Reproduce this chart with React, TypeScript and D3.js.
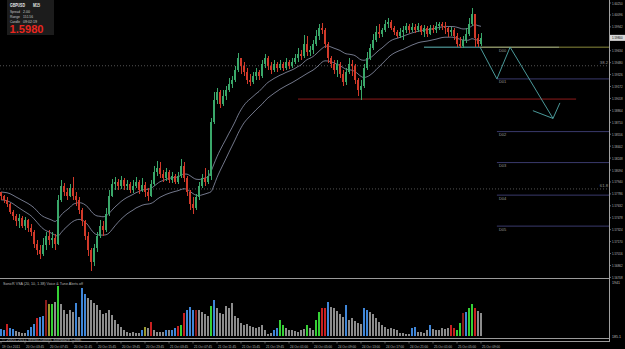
import React from "react";
import * as d3 from "d3";

// header block
const symbol = "GBPUSD";
const timeframe = "M15";
const infoLabels = ["Spread", "Range", "Candle"];
const infoValues = ["2.00", "151.56", "09:02:19"];
const bidText = "1.5980";

const firstOpen = 1.5781;
const closes = [
  1.5776, 1.5771, 1.5766, 1.5755, 1.575, 1.5743, 1.5748, 1.5737, 1.5745, 1.5735,
  1.573, 1.5714, 1.5706, 1.5701, 1.5712, 1.5724, 1.5719, 1.5722, 1.5714, 1.5771,
  1.5789, 1.5781, 1.5776, 1.5786, 1.5776, 1.5771, 1.5758, 1.5743, 1.5724, 1.5706,
  1.5691, 1.5709, 1.5724, 1.5737, 1.5732, 1.5753, 1.5776, 1.5792, 1.5794, 1.5789,
  1.5797, 1.5789, 1.5792, 1.5784, 1.5789, 1.5794, 1.5784, 1.579, 1.5781, 1.5776,
  1.5792, 1.5807, 1.5812, 1.5804, 1.5799, 1.5807, 1.5797, 1.5802, 1.5794, 1.5802,
  1.5815, 1.5799, 1.5781, 1.5766, 1.5761, 1.5774, 1.5789, 1.5799, 1.5794, 1.5802,
  1.5872, 1.59, 1.591, 1.5895, 1.5905, 1.5913, 1.592, 1.5926, 1.5939, 1.5954,
  1.5944, 1.5936, 1.5926, 1.5923, 1.5931, 1.5936, 1.5931, 1.5946, 1.5954, 1.5944,
  1.5939, 1.5946, 1.5941, 1.5946, 1.5941, 1.5949, 1.5944, 1.5949, 1.5954, 1.5959,
  1.5957, 1.5972, 1.5962, 1.5964, 1.5972, 1.5982, 1.5993, 1.599, 1.5972, 1.5954,
  1.5946, 1.5939, 1.5946, 1.5933, 1.5923, 1.5936, 1.5946, 1.5944, 1.5926, 1.5913,
  1.5918, 1.5941, 1.5954, 1.5967, 1.5977, 1.5988, 1.5985, 1.599, 1.5998, 1.6001,
  1.5993, 1.5988, 1.5982, 1.5988, 1.599, 1.5995, 1.599, 1.5994, 1.599, 1.5995,
  1.5988, 1.5993, 1.5985, 1.5993, 1.599, 1.5995, 1.5998, 1.5995, 1.5993, 1.5988,
  1.599, 1.5982, 1.5972, 1.597, 1.5977, 1.5985, 1.5998, 1.6011, 1.598, 1.5972,
  1.598,
];
const highs = [
  1.5781, 1.5777, 1.5775, 1.5767, 1.5758, 1.5753, 1.5753, 1.575, 1.5749, 1.5746,
  1.574, 1.5732, 1.5719, 1.5712, 1.5722, 1.573, 1.5732, 1.573, 1.5727, 1.5777,
  1.5797, 1.5793, 1.5786, 1.5792, 1.5801, 1.5781, 1.5774, 1.5761, 1.5745, 1.573,
  1.5709, 1.5714, 1.573, 1.5745, 1.5743, 1.5761, 1.5784, 1.5798, 1.5801, 1.5798,
  1.5802, 1.5799, 1.5797, 1.5794, 1.5797, 1.5801, 1.5797, 1.5799, 1.5794, 1.5786,
  1.5797, 1.5815, 1.5821, 1.582, 1.581, 1.5812, 1.581, 1.5807, 1.5804, 1.5807,
  1.5823, 1.582, 1.5802, 1.5784, 1.5774, 1.5779, 1.5794, 1.5804, 1.5812, 1.581,
  1.5877, 1.591, 1.5915, 1.5913, 1.5913, 1.5918, 1.5928, 1.5931, 1.5944, 1.5961,
  1.5954, 1.5949, 1.5941, 1.5933, 1.5936, 1.5941, 1.5939, 1.5952, 1.5959, 1.5957,
  1.5949, 1.5952, 1.5949, 1.5952, 1.5949, 1.5954, 1.5952, 1.5954, 1.5959, 1.5967,
  1.5964, 1.5984, 1.5982, 1.597, 1.5977, 1.599, 1.5998, 1.5999, 1.5993, 1.5975,
  1.5957, 1.5952, 1.5952, 1.5949, 1.5939, 1.5941, 1.5954, 1.5952, 1.5946, 1.5928,
  1.5926, 1.5946, 1.5962, 1.5972, 1.5985, 1.5995, 1.5998, 1.5993, 1.6003, 1.6006,
  1.6003, 1.5995, 1.599, 1.5993, 1.5995, 1.5999, 1.5998, 1.5999, 1.5998, 1.5999,
  1.5997, 1.5997, 1.5995, 1.5997, 1.5997, 1.6001, 1.6001, 1.6001, 1.6001, 1.5994,
  1.5994, 1.5993, 1.5986, 1.5981, 1.5982, 1.5993, 1.6006, 1.6019, 1.6011, 1.5985,
  1.5986,
];
const lows = [
  1.5771, 1.5767, 1.5762, 1.5752, 1.5745, 1.5737, 1.5735, 1.5734, 1.5732, 1.573,
  1.5724, 1.5709, 1.57, 1.5695, 1.5699, 1.5706, 1.5713, 1.5709, 1.5706, 1.5712,
  1.5768, 1.5776, 1.5771, 1.5774, 1.5771, 1.5763, 1.5753, 1.5737, 1.5719, 1.5699,
  1.5679, 1.5686, 1.5704, 1.5722, 1.5724, 1.573, 1.575, 1.5774, 1.5784, 1.5784,
  1.5785, 1.5783, 1.5784, 1.578, 1.578, 1.5786, 1.5779, 1.5781, 1.5775, 1.577,
  1.5774, 1.5789, 1.5802, 1.5799, 1.5794, 1.5795, 1.5793, 1.5793, 1.5792, 1.5792,
  1.5799, 1.5794, 1.5776, 1.5758, 1.5752, 1.5758, 1.5771, 1.5786, 1.5789, 1.5792,
  1.5797, 1.5869, 1.5895, 1.589, 1.5892, 1.59, 1.591, 1.5915, 1.5923, 1.5936,
  1.5933, 1.5931, 1.592, 1.5918, 1.592, 1.5926, 1.5926, 1.5928, 1.5941, 1.5939,
  1.5933, 1.5936, 1.5936, 1.5939, 1.5937, 1.5939, 1.594, 1.5941, 1.5946, 1.5949,
  1.5952, 1.5954, 1.5957, 1.5957, 1.5959, 1.597, 1.5977, 1.5985, 1.5967, 1.5948,
  1.5941, 1.5933, 1.5929, 1.5928, 1.5918, 1.5919, 1.5933, 1.5931, 1.592, 1.5905,
  1.59, 1.5915, 1.5939, 1.5952, 1.5964, 1.5975, 1.598, 1.5981, 1.5988, 1.5993,
  1.599, 1.5984, 1.598, 1.598, 1.5977, 1.5986, 1.5986, 1.5988, 1.5986, 1.5988,
  1.5984, 1.5981, 1.5981, 1.5984, 1.5986, 1.5986, 1.599, 1.599, 1.5985, 1.5981,
  1.5982, 1.5977, 1.5968, 1.5967, 1.5967, 1.5973, 1.5982, 1.5995, 1.5968, 1.5968,
  1.597,
];

// SonicR VSA volume histogram
const volumes = [
  280, 240, 480, 320, 280, 200, 160, 120, 120, 240,
  360, 480, 720, 760, 800, 1440, 1280, 1280, 1360, 2000,
  1280, 1040, 880, 1040, 960, 1320, 760, 1920, 1680, 1520,
  1440, 1320, 1240, 1040, 880, 920, 1040, 840, 640, 480,
  360, 240, 160, 120, 160, 120, 120, 240, 360, 320,
  560, 240, 160, 160, 160, 240, 240, 240, 320, 400,
  440, 920, 1040, 1160, 1040, 1040, 1040, 960, 880, 800,
  1200, 1440, 1120, 920, 880, 1200, 1120, 1320, 800, 720,
  520, 440, 480, 400, 360, 320, 360, 440, 240, 80,
  120, 240, 320, 640, 440, 320, 240, 240, 200, 160,
  240, 280, 440, 320, 240, 640, 960, 1120, 1120, 1360,
  1160, 1120, 1000, 880, 760, 1240, 640, 720, 600, 520,
  480, 1120, 1040, 960, 880, 720, 560, 440, 360, 280,
  320, 280, 240, 120, 120, 80, 80, 320, 360, 160,
  160, 120, 240, 440, 280, 240, 240, 320, 280, 320,
  440, 320, 240, 520, 920, 960, 1120, 1280, 1120, 1000,
  920,
];
// n normal, l low volume test, u climax up, c climax down, k churn, w weak
const volumeTypes = [
  "l", "l", "c", "l", "l", "n", "n", "n", "n", "l",
  "l", "l", "c", "l", "l", "k", "w", "u", "n", "u",
  "n", "n", "n", "n", "n", "l", "n", "l", "l", "n",
  "n", "n", "n", "n", "n", "n", "n", "n", "n", "n",
  "n", "n", "n", "n", "n", "n", "n", "l", "w", "n",
  "c", "n", "n", "n", "n", "l", "n", "l", "l", "c",
  "u", "c", "l", "l", "l", "k", "n", "n", "n", "n",
  "u", "l", "n", "n", "n", "n", "n", "n", "n", "n",
  "n", "n", "n", "n", "n", "n", "n", "n", "n", "n",
  "n", "l", "l", "u", "u", "n", "n", "n", "n", "n",
  "n", "n", "u", "n", "n", "u", "u", "c", "c", "l",
  "n", "n", "n", "n", "n", "l", "n", "n", "n", "n",
  "n", "l", "l", "n", "n", "n", "n", "n", "n", "n",
  "n", "n", "n", "n", "n", "n", "n", "l", "l", "n",
  "n", "n", "n", "l", "n", "n", "n", "n", "n", "n",
  "c", "c", "u", "u", "k", "l", "u", "u", "c", "n",
  "n",
];

const timeLabels = [
  "19 Oct 2011", "20 Oct 03:45", "20 Oct 07:45", "20 Oct 11:45", "20 Oct 15:45",
  "20 Oct 19:45", "20 Oct 23:45", "21 Oct 03:45", "21 Oct 07:45", "21 Oct 11:45",
  "21 Oct 15:45", "21 Oct 19:45", "24 Oct 01:00", "24 Oct 05:00", "24 Oct 09:00",
  "24 Oct 13:00", "24 Oct 17:00", "24 Oct 21:00", "25 Oct 01:00", "25 Oct 05:00",
  "25 Oct 09:00",
];
const priceTicks = [
  1.6025, 1.60096, 1.59942, 1.59788, 1.59634, 1.5948, 1.59326, 1.59172, 1.59018,
  1.58864, 1.5871, 1.58556, 1.58402, 1.58248, 1.58094, 1.5794, 1.57786, 1.57632,
  1.57478, 1.57324, 1.5717, 1.57016, 1.56862, 1.56708,
];

// drawn objects
const retraceLabels = ["38.2", "61.8"];
const retracePrices = [1.5944, 1.5785];
const projLabels = ["D00", "D01", "D02", "D03", "D04", "D05"];
const projPrices = [1.5968, 1.5927, 1.5859, 1.5819, 1.5777, 1.5737];
const supportPrice = 1.5901;
const supportBars = [99, 191.7];
const zigBars = [159.7, 165.3, 169.7, 184, 186.3];
const zigPrices = [1.5968, 1.5927, 1.5968, 1.5876, 1.5896];
const barbBar = 177.3;
const barbPrice = 1.5886;
const baseLineBars = [141, 159.7];
const volMaxLabel = "1941";
const volLevelLabel = "185.1";

const ema = (arr: number[], period: number) => {
  const k = 2 / (period + 1);
  const out: number[] = [];
  arr.forEach((v, i) => out.push(i === 0 ? v : out[i - 1] + k * (v - out[i - 1])));
  return out;
};

const volColor: Record<string, string> = {
  n: "#8c8c8c",
  l: "#3f86d8",
  u: "#35d035",
  c: "#c82020",
  k: "#8a1c1c",
  w: "#9a9a30",
};

export default function App() {
  const W = 625;
  const H = 349;
  const font = "'Liberation Sans', Arial, sans-serif";
  const x = d3.scaleLinear().domain([0, 160]).range([1, 481]);
  const y = d3.scaleLinear().domain([1.56708, 1.6025]).range([277.4, 3]);
  const yv = d3.scaleLinear().domain([0, 2160]).range([336, 282]);

  const opens = closes.map((c, i) => (i === 0 ? firstOpen : closes[i - 1]));
  const maHigh = ema(highs, 20);
  const maLow = ema(lows, 20);
  const line = d3
    .line<number>()
    .x((d, i) => x(i))
    .y((d) => y(d))
    .curve(d3.curveMonotoneX);
  const zig = d3
    .line<number>()
    .x((d, i) => x(zigBars[i]))
    .y((d) => y(d));

  return (
    <svg
      width={W}
      height={H}
      style={{ position: "fixed", left: 0, top: 0, background: "#000" }}
      fontFamily={font}
    >
      <rect width={W} height={H} fill="#000" />

      {/* horizontal objects */}
      {retracePrices.map((p, i) => (
        <g key={"r" + i}>
          <line x1={0} x2={609} y1={y(p)} y2={y(p)} stroke="#777" strokeWidth={0.7} strokeDasharray="1,2" />
          <text x={608} y={y(p) - 1.5} fontSize={4.2} fill="#999" textAnchor="end">
            {retraceLabels[i]}
          </text>
        </g>
      ))}
      <line
        x1={x(supportBars[0])}
        x2={x(supportBars[1])}
        y1={y(supportPrice)}
        y2={y(supportPrice)}
        stroke="#8e1b1b"
        strokeWidth={1}
      />
      {projPrices.map((p, i) =>
        i === 0 ? null : (
          <line key={"p" + i} x1={x(zigBars[1])} x2={609} y1={y(p)} y2={y(p)} stroke="#3a3a6c" strokeWidth={1} />
        )
      )}
      <line x1={x(zigBars[0])} x2={x(186)} y1={y(projPrices[0])} y2={y(projPrices[0])} stroke="#c9d493" strokeWidth={1} />
      <line x1={x(186)} x2={609} y1={y(projPrices[0])} y2={y(projPrices[0])} stroke="#8a8a3c" strokeWidth={1} />
      <line
        x1={x(baseLineBars[0])}
        x2={x(baseLineBars[1])}
        y1={y(projPrices[0])}
        y2={y(projPrices[0])}
        stroke="#5fb8b8"
        strokeWidth={1}
      />
      {projPrices.map((p, i) => (
        <text key={"pl" + i} x={x(zigBars[1]) + 2} y={y(p) + 4.5} fontSize={4} fill="#9a9a9a">
          {projLabels[i]}
        </text>
      ))}

      {/* moving averages */}
      <path d={line(maHigh) || ""} fill="none" stroke="#a3abc6" strokeWidth={0.7} />
      <path d={line(maLow) || ""} fill="none" stroke="#a3abc6" strokeWidth={0.7} />

      {/* candles */}
      <g shapeRendering="crispEdges">
        {closes.map((c, i) => {
          const o = opens[i];
          const up = c >= o;
          const col = up ? "#3aa86a" : "#d23a2a";
          const top = y(Math.max(o, c));
          const bot = y(Math.min(o, c));
          return (
            <g key={i}>
              <line x1={x(i)} x2={x(i)} y1={y(highs[i])} y2={y(lows[i])} stroke={col} strokeWidth={1} />
              <rect x={x(i) - 1} y={top} width={2} height={Math.max(1, bot - top)} fill={col} />
            </g>
          );
        })}
      </g>

      {/* zigzag projection */}
      <path d={zig(zigPrices) || ""} fill="none" stroke="#52aaaa" strokeWidth={0.9} />
      <line
        x1={x(zigBars[3])}
        y1={y(zigPrices[3])}
        x2={x(barbBar)}
        y2={y(barbPrice)}
        stroke="#52aaaa"
        strokeWidth={0.9}
      />

      {/* info box */}
      <rect x={7} y={0} width={47} height={35} fill="#1c1c1c" />
      <text x={10} y={7} fontSize={5} fontWeight="bold" fill="#e8e8e8" textLength={15} lengthAdjust="spacingAndGlyphs">
        {symbol}
      </text>
      <text x={33} y={7} fontSize={5} fontWeight="bold" fill="#e8e8e8" textLength={7} lengthAdjust="spacingAndGlyphs">
        {timeframe}
      </text>
      {infoLabels.map((l, i) => (
        <g key={l}>
          <text x={10} y={12.5 + i * 5} fontSize={4.3} fill="#c8c8c8" textLength={10} lengthAdjust="spacingAndGlyphs">
            {l}
          </text>
          <text
            x={23}
            y={12.5 + i * 5}
            fontSize={4.3}
            fill="#c8c8c8"
            textLength={[7, 10, 14][i]}
            lengthAdjust="spacingAndGlyphs"
          >
            {infoValues[i]}
          </text>
        </g>
      ))}
      <text x={9.5} y={32.7} fontSize={10.5} fontWeight="bold" fill="#e8261e" textLength={34} lengthAdjust="spacingAndGlyphs">
        {bidText}
      </text>

      {/* right price axis */}
      {priceTicks.map((t) => (
        <g key={t}>
          <line x1={609} x2={611} y1={y(t)} y2={y(t)} stroke="#aaa" strokeWidth={0.6} />
          <text x={612} y={y(t) + 1.5} fontSize={4} fill="#bdbdbd" textLength={10.5} lengthAdjust="spacingAndGlyphs">
            {t.toFixed(5)}
          </text>
        </g>
      ))}
      <rect x={610} y={y(1.598) - 3} width={15} height={6} fill="#d8d8d8" />
      <text x={612} y={y(1.598) + 1.5} fontSize={4} fill="#000" textLength={10.5} lengthAdjust="spacingAndGlyphs">
        1.59800
      </text>

      {/* volume panel */}
      <line x1={0} x2={610} y1={278.5} y2={278.5} stroke="#9a9a9a" strokeWidth={1} />
      <text x={3} y={285} fontSize={4.3} fill="#b8b8b8" textLength={80} lengthAdjust="spacingAndGlyphs">
        SonicR VSA  (20, 10, 1.38)  Voice &amp; Tune Alerts off
      </text>
      <g shapeRendering="crispEdges">
        {volumes.map((v, i) => (
          <rect key={i} x={x(i) - 1} y={yv(v)} width={2} height={yv(0) - yv(v)} fill={volColor[volumeTypes[i]]} />
        ))}
      </g>
      <text x={612} y={284} fontSize={4} fill="#bdbdbd" textLength={8} lengthAdjust="spacingAndGlyphs">
        {volMaxLabel}
      </text>
      <text x={612} y={338} fontSize={4} fill="#bdbdbd" textLength={9} lengthAdjust="spacingAndGlyphs">
        {volLevelLabel}
      </text>

      {/* frame */}
      <line x1={609.5} x2={609.5} y1={0} y2={342} stroke="#a0a0a0" strokeWidth={1} />
      <line x1={0} x2={610} y1={338.5} y2={338.5} stroke="#9a9a9a" strokeWidth={1} />
      <line x1={0} x2={610} y1={341.5} y2={341.5} stroke="#9a9a9a" strokeWidth={1} />
      <text x={2} y={341.2} fontSize={3.4} fill="#9a9a9a" textLength={80} lengthAdjust="spacingAndGlyphs">
        © 2001-2011 MetaQuotes Software Corp.
      </text>

      {/* time axis */}
      {timeLabels.map((t, i) => (
        <g key={t}>
          <line x1={x(i * 8)} x2={x(i * 8)} y1={341.5} y2={343.5} stroke="#9a9a9a" strokeWidth={0.6} />
          <text x={x(i * 8) + 1} y={347.5} fontSize={4} fill="#bdbdbd" textLength={18} lengthAdjust="spacingAndGlyphs">
            {t}
          </text>
        </g>
      ))}
    </svg>
  );
}
